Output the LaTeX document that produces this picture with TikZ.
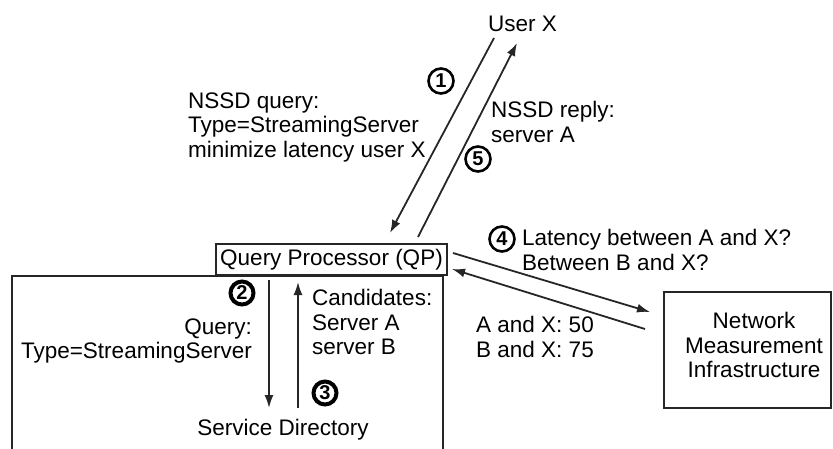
\documentclass[tikz,border=0pt]{standalone}
\usepackage{fontspec}
\setmainfont{Liberation Sans}
\usetikzlibrary{arrows.meta}
\begin{document}
\begin{tikzpicture}[x=1pt,y=-1pt,
  txt/.style={font=\fontsize{22.5}{24.5}\selectfont, inner sep=0pt},
  num/.style={circle, draw, line width=2.6pt, minimum size=25pt, inner sep=0pt, font=\bfseries\fontsize{20}{20}\selectfont},
  numb/.style={num, line width=4pt, minimum size=23pt},
  box/.style={draw=black!85, line width=1.6pt},
  arr/.style={draw=black!85, line width=1.8pt, -{Latex[length=13pt,width=9pt]}}]
\useasboundingbox (0,0) rectangle (833,448);
% Service directory box (open at the bottom)
\draw[box] (12,452) -- (12,276) -- (443,276) -- (443,452);
% Query processor
\node[box, txt, minimum width=231pt, minimum height=31pt] (qp) at (331.5,259.5) {Query Processor (QP)};
\node[txt] (sd) at (283,430) {Service Directory};
% Network measurement infrastructure
\node[box, minimum width=167pt, minimum height=116pt] (nmi) at (747.5,350) {};
\node[txt, align=center] (nmitext) at (754,345) {Network\\Measurement\\Infrastructure};
% User
\node[txt] (user) at (522.5,24) {User X};
% coordinates of connector ends
\coordinate (u1) at (494,38);
\coordinate (q1) at (390,233);
\coordinate (q5) at (418,237);
\coordinate (u5) at (517,43);
\coordinate (q2) at (269,280);
\coordinate (s2) at (269,408);
\coordinate (s3) at (298,408);
\coordinate (q3) at (298,282);
\coordinate (q4) at (453,253);
\coordinate (n4) at (650,312);
\coordinate (n6) at (645,329);
\coordinate (q6) at (452,269);
\draw[arr] (u1) -- (q1);
\draw[arr] (q5) -- (u5);
\draw[arr] (q2) -- (s2);
\draw[arr] (s3) -- (q3);
\draw[arr] (q4) -- (n4);
\draw[arr] (n6) -- (q6);
% step numbers
\node[num] (c1) at (441,81) {1};
\node[num] (c5) at (478,159) {5};
\node[numb] (c2) at (242,293) {2};
\node[numb] (c3) at (325,393) {3};
\node[num] (c4) at (502,239) {4};
% labels
\node[txt, align=left, anchor=west] (l1) at (188,127) {NSSD query:\\Type=StreamingServer\\minimize latency user X};
\node[txt, align=left, anchor=west] (l5) at (491,122) {NSSD reply:\\server A};
\node[txt, align=right, anchor=east] (l2) at (252,341) {Query:\\Type=StreamingServer};
\node[txt, align=left, anchor=west] (l3) at (312,322) {Candidates:\\Server A\\server B};
\node[txt, align=left, anchor=west] (l4) at (522,250) {Latency between A and X?\\Between B and X?};
\node[txt, align=left, anchor=west] (l6) at (476,337) {A and X: 50\\B and X: 75};
\end{tikzpicture}
\end{document}
